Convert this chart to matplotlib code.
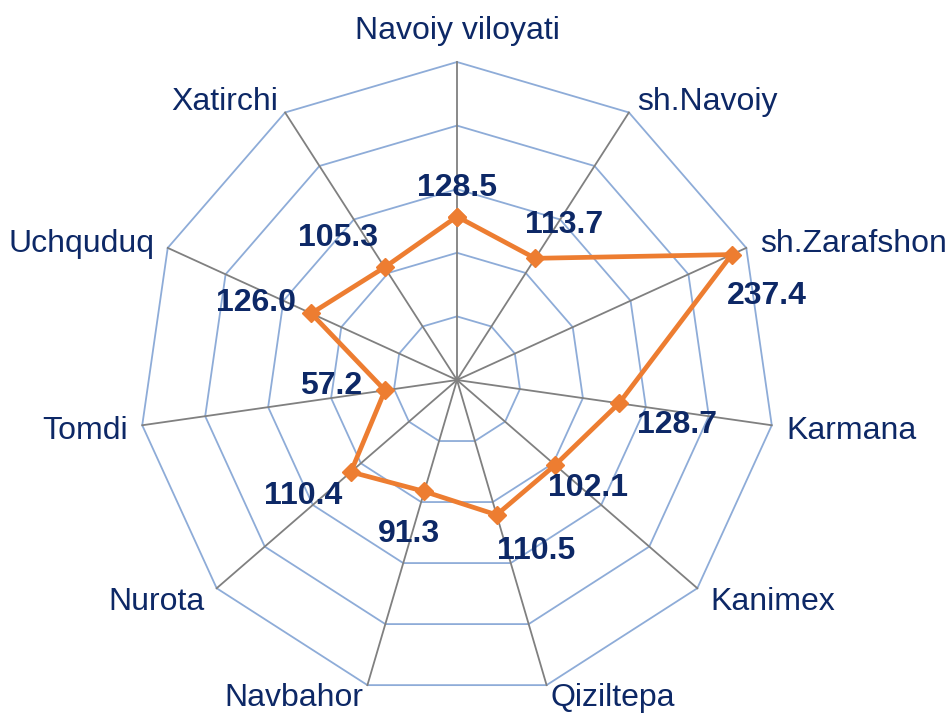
import numpy as np
import matplotlib
matplotlib.use("Agg")
import matplotlib.pyplot as plt

categories = ["Navoiy viloyati", "sh.Navoiy", "sh.Zarafshon", "Karmana", "Kanimex",
              "Qiziltepa", "Navbahor", "Nurota", "Tomdi", "Uchquduq", "Xatirchi"]
values = [128.5, 113.7, 237.4, 128.7, 102.1, 110.5, 91.3, 110.4, 57.2, 126.0, 105.3]
value_labels = ["128.5", "113.7", "237.4", "128.7", "102.1", "110.5", "91.3", "110.4", "57.2", "126.0", "105.3"]
ring_levels = [50, 100, 150, 200, 250]

# styling (offsets in pixels)
label_offsets = [(0, 29), (29, 33), (35, -41), (58, -22), (33, -23), (40, -36),
                 (-15, -43), (-48, -24), (-54, 4), (-55, 10), (-47, 29)]
cat_offsets = [(0, 31), (8, 10), (14, 4), (15, -6), (13, -14), (4, -13),
               (-4, -13), (-12, -14), (-14, -6), (-13, 4), (-7, 10)]
cat_ha = ["center", "left", "left", "left", "left", "left",
          "right", "right", "right", "right", "right"]

navy = "#0D2866"
orange = "#ED7D31"
ring_color = "#8EACD8"
spoke_color = "#808080"

plt.rcParams["font.family"] = ["Liberation Sans", "DejaVu Sans"]

fig = plt.figure(figsize=(9.5, 7.14), dpi=100)
ax = fig.add_axes([139 / 950, 16 / 714, 636 / 950, 636 / 714], projection="polar")
ax.set_theta_zero_location("N")
ax.set_theta_direction(-1)
ax.set_ylim(0, 250)
ax.grid(False)
ax.set_xticks([])
ax.set_yticks([])
ax.spines["polar"].set_visible(False)
ax.patch.set_alpha(0)

n = len(categories)
angles = np.linspace(0, 2 * np.pi, n, endpoint=False)
closed = np.concatenate([angles, angles[:1]])

for lvl in ring_levels:
    ax.plot(closed, [lvl] * (n + 1), color=ring_color, lw=1.3, zorder=1, clip_on=False)
for a in angles:
    ax.plot([a, a], [0, ring_levels[-1]], color=spoke_color, lw=1.3, zorder=2, clip_on=False)

vals_closed = values + values[:1]
ax.plot(closed, vals_closed, color=orange, lw=3.4, marker="D", markersize=9,
        zorder=5, clip_on=False, solid_joinstyle="miter")

for a, v, lab, off in zip(angles, values, value_labels, label_offsets):
    ax.annotate(lab, xy=(a, v), xytext=off, textcoords="offset pixels",
                ha="center", va="center", fontsize=23, fontweight="bold",
                color=navy, annotation_clip=False, zorder=6)

for a, cat, off, ha in zip(angles, categories, cat_offsets, cat_ha):
    ax.annotate(cat, xy=(a, ring_levels[-1]), xytext=off, textcoords="offset pixels",
                ha=ha, va="center", fontsize=23, color=navy, annotation_clip=False)

fig.savefig("out.png", dpi=100)
